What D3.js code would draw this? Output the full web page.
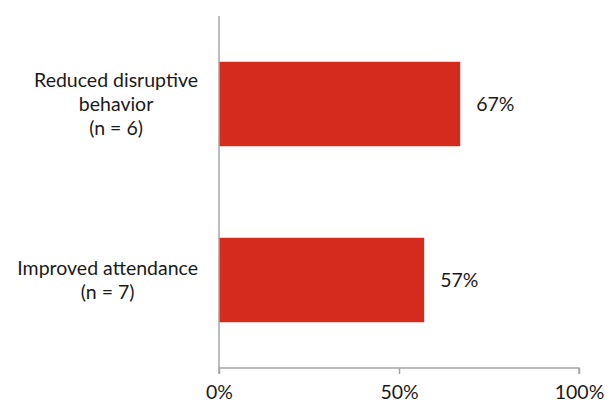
<!DOCTYPE html>
<html>
<head>
<meta charset="utf-8">
<script src="https://cdn.jsdelivr.net/npm/d3@7"></script>
<style>
  html, body { margin: 0; padding: 0; background: #fff; }
  svg { display: block; }
  text { font-family: Lato, "Open Sans", sans-serif; fill: #1a1a1a; }
</style>
</head>
<body>
<svg id="chart" width="613" height="404"></svg>
<script>
// Outcome categories (each label split into lines) and share of students improving
const categories = ["Reduced disruptive behavior (n = 6)", "Improved attendance (n = 7)"];
const categoryLines = [["Reduced disruptive", "behavior", "(n = 6)"], ["Improved attendance", "(n = 7)"]];
const values = [67, 57];
const tickValues = [0, 50, 100];
const tickLabels = ["0%", "50%", "100%"];

const FS = 19.5;
const svg = d3.select("#chart");
const margin = { top: 16, right: 34, bottom: 36, left: 219 };
const W = 613, H = 404;
const innerW = W - margin.left - margin.right;
const innerH = H - margin.top - margin.bottom;

const g = svg.append("g").attr("transform", `translate(${margin.left},${margin.top})`);

const x = d3.scaleLinear().domain([0, 100]).range([0, innerW]);
const y = d3.scaleBand().domain(categories).range([0, innerH]).paddingInner(0.52).paddingOuter(0.26);

// Bars
g.selectAll("rect.bar")
  .data(values)
  .join("rect")
  .attr("class", "bar")
  .attr("x", x(0))
  .attr("y", (d, i) => y(categories[i]))
  .attr("width", d => x(d) - x(0))
  .attr("height", y.bandwidth())
  .attr("fill", "#d52b1f");

// Value labels
g.selectAll("text.val")
  .data(values)
  .join("text")
  .attr("class", "val")
  .attr("x", d => x(d) + 16)
  .attr("y", (d, i) => y(categories[i]) + y.bandwidth() / 2)
  .attr("dy", "0.35em")
  .attr("font-size", FS)
  .text(d => d + "%");

// Category labels: each block centred on its own width, right edge 21px left of the axis
const lineH = 24;
categories.forEach((c, i) => {
  const lines = categoryLines[i];
  const cy = y(c) + y.bandwidth() / 2;
  const t = g.append("text")
    .attr("text-anchor", "middle")
    .attr("font-size", FS);
  lines.forEach((l, j) => {
    t.append("tspan").attr("x", 0).attr("y", j * lineH).attr("dy", "0.35em").text(l);
  });
  let maxW = 0;
  t.selectAll("tspan").each(function () { maxW = Math.max(maxW, this.getComputedTextLength()); });
  t.attr("transform", `translate(${-21 - maxW / 2},${cy - (lines.length - 1) * lineH / 2})`);
});

// X axis
const xAxis = d3.axisBottom(x).tickValues(tickValues).tickFormat((d, i) => tickLabels[i]).tickSize(6).tickPadding(11);
const ax = g.append("g").attr("transform", `translate(0,${innerH})`).call(xAxis);
ax.select(".domain").attr("stroke", "#a6a6a6").attr("stroke-width", 1.5).attr("d", `M${x(0)},6V0H${x(100)}V6`);
ax.selectAll(".tick line").attr("stroke", "#a6a6a6").attr("stroke-width", 1.5);
ax.selectAll(".tick text").attr("font-size", FS).attr("font-family", "Lato, 'Open Sans', sans-serif").attr("fill", "#1a1a1a");

// Y axis line
g.append("line")
  .attr("x1", x(0)).attr("x2", x(0))
  .attr("y1", 0).attr("y2", innerH)
  .attr("stroke", "#a6a6a6").attr("stroke-width", 1.5);
</script>
</body>
</html>
